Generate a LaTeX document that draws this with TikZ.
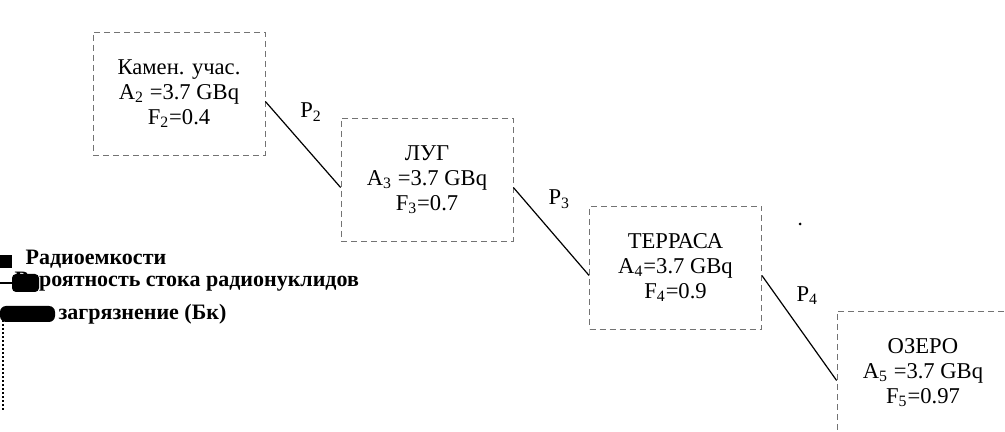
\documentclass[tikz,border=0pt]{standalone}
\usepackage{fontspec}
\setmainfont{Liberation Serif}
\usetikzlibrary{calc}

\begin{document}
\begin{tikzpicture}[x=0.5pt,y=-0.5pt,semithick,auto,
                    font=\fontsize{11.3}{12.5}\selectfont]
  \tikzstyle{site}=[rectangle,draw=black!55,densely dashed,thin,fill=white,
                    minimum width=86pt,minimum height=61.5pt,inner sep=0pt,align=center]
  \tikzstyle{flow}=[draw=black,solid]
  \tikzstyle{legend}=[anchor=base west,inner sep=0pt,font=\fontsize{11}{13}\selectfont\bfseries]

  \useasboundingbox (0,0) rectangle (1005,432);
  \clip (0,0) rectangle (1005,432);

  \node[site] (K) at (179,93.5)  {Камен. учас.\\A\textsubscript{2} =3.7 GBq\\F\textsubscript{2}=0.4};
  \node[site] (L) at (427,179.5) {ЛУГ\\A\textsubscript{3} =3.7 GBq\\F\textsubscript{3}=0.7};
  \node[site] (T) at (675.5,267.5) {ТЕРРАСА\\A\textsubscript{4}=3.7 GBq\\F\textsubscript{4}=0.9};
  \node[site] (O) at (923,372.5) {ОЗЕРО\\A\textsubscript{5} =3.7 GBq\\F\textsubscript{5}=0.97};

  \path[flow]
  ([yshift=-4pt]K.east) edge node[xshift=-5pt,yshift=8pt] {P\textsubscript{2}} ([yshift=-4pt]L.west)
  ([yshift=-4pt]L.east) edge node[xshift=-5pt,yshift=8pt] {P\textsubscript{3}} ([yshift=-4pt]T.west)
  ([yshift=-4pt]T.east) edge node[xshift=-5pt,yshift=8pt] {P\textsubscript{4}} ([yshift=-4pt]O.west);

  \fill (800,224) circle (1.5);

  % legend, cut off at the left
  \fill (0,255) rectangle (12,268);
  \node[legend] (r1) at (25,265) {Радиоемкости};
  \draw[line width=1pt] (0,283) -- (12,283);
  \node[legend] (r2) at (14,287) {Вероятность стока радионуклидов};
  \fill[rounded corners=2pt] (12,274) rectangle (39,292);
  \fill[rounded corners=3pt] (0,306) rectangle (55,322);
  \node[legend] (r3) at (58,320) {загрязнение (Бк)};
  \draw[densely dotted,line width=1pt] (3,320) -- (3,410);
\end{tikzpicture}
\end{document}
